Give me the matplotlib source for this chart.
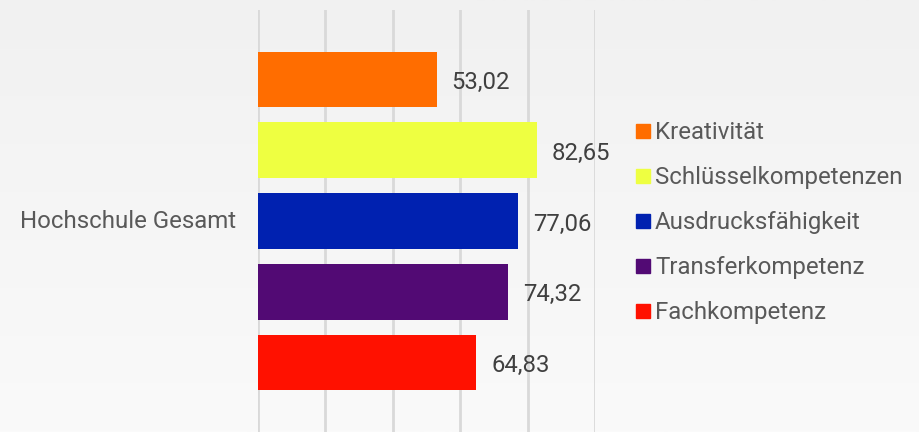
import matplotlib
matplotlib.use("Agg")
import matplotlib.pyplot as plt
import numpy as np
from matplotlib.patches import Rectangle
from matplotlib.colors import LinearSegmentedColormap

plt.rcParams['font.family'] = ['Roboto', 'DejaVu Sans']

category = "Hochschule Gesamt"
series = ["Kreativität", "Schlüsselkompetenzen", "Ausdrucksfähigkeit", "Transferkompetenz", "Fachkompetenz"]
values = [53.02, 82.65, 77.06, 74.32, 64.83]
colors = ["#ff6d00", "#eeff41", "#0021b0", "#520a74", "#ff1100"]
value_labels = ["53,02", "82,65", "77,06", "74,32", "64,83"]

W, H = 920, 432
fig = plt.figure(figsize=(W / 100, H / 100), dpi=100)

# background gradient
bg = fig.add_axes([0, 0, 1, 1], zorder=-10)
grad = np.linspace(0, 1, 256).reshape(-1, 1)
cmap = LinearSegmentedColormap.from_list("bg", ["#f1f1f1", "#fafafa"])
bg.imshow(grad, aspect="auto", cmap=cmap, extent=[0, 1, 0, 1], origin="upper")
bg.set_axis_off()

x0, x1 = 258, 595
y_top, y_bot = 10, 432
ax = fig.add_axes([x0 / W, (H - y_bot) / H, (x1 - x0) / W, (y_bot - y_top) / H])
ax.patch.set_alpha(0)
ax.set_xlim(0, 100)
n = len(values)
pos = np.arange(n)[::-1] - (n - 1) / 2
ax.set_ylim(-2.983, 2.983)
ax.set_xticks([0, 20, 40, 60, 80, 100])
ax.set_xticklabels([])
ax.set_yticks([])
ax.tick_params(length=0)
ax.grid(axis="x", color="#d9d9d9", linewidth=2)
ax.set_axisbelow(True)
for s in ax.spines.values():
    s.set_visible(False)

bars = ax.barh(pos, values, height=0.79, color=colors, zorder=3)
for p, v, lab in zip(pos, values, value_labels):
    ax.annotate(lab, (v, p), xytext=(15, -3), textcoords="offset pixels",
                ha="left", va="center", fontsize=17.2, color="#404040",
                annotation_clip=False)

fig.text(20 / W, 1 - 222 / H, category, ha="left", va="center", fontsize=17.3, color="#595959")

leg_y = [131, 176, 221, 266, 311]
for name, c, yy in zip(series, colors, leg_y):
    fig.patches.append(Rectangle((636 / W, 1 - (yy + 7) / H), 14 / W, 14 / H,
                                 transform=fig.transFigure, color=c, figure=fig))
    fig.text(655 / W, 1 - (yy + 1.5) / H, name, ha="left", va="center", fontsize=17.3, color="#595959")

fig.savefig("out.png", dpi=100)
